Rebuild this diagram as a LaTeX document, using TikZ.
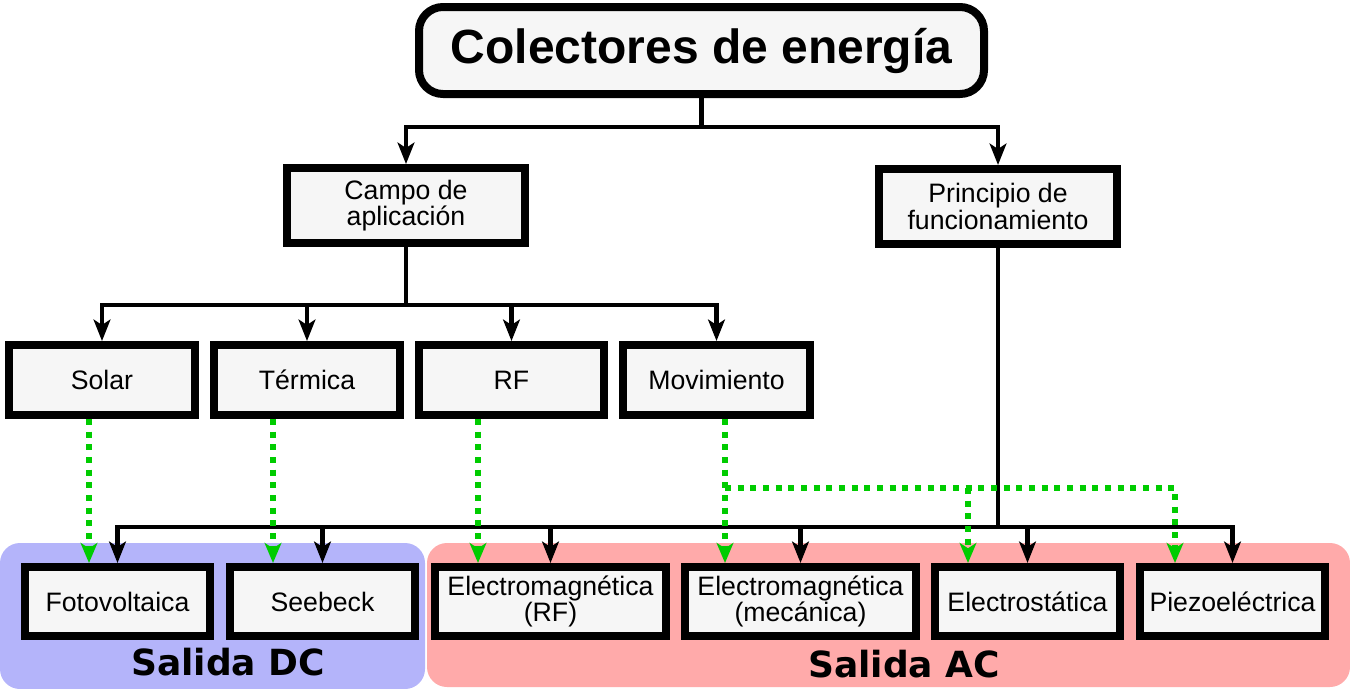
\documentclass[tikz,border=0pt]{standalone}
\usepackage{fontspec}
\setmainfont{Liberation Sans}
\newfontfamily\djv{DejaVu Sans}
\usetikzlibrary{arrows.meta,calc}
\definecolor{boxfill}{RGB}{246,246,246}
\definecolor{bluebg}{RGB}{180,180,250}
\definecolor{pinkbg}{RGB}{255,170,170}
\definecolor{grn}{RGB}{0,204,0}
\begin{document}
\begin{tikzpicture}[x=0.75pt,y=-0.75pt,
  box/.style={draw=black, line width=6pt, fill=boxfill, inner sep=0pt, outer sep=3pt,
    align=center, font=\fontsize{20}{20}\selectfont},
  sz/.style 2 args={minimum width=#1*0.75pt-6pt, minimum height=#2*0.75pt-6pt},
  ln/.style={line width=3.6pt, draw=black},
  arr/.style={ln, -{Stealth[length=16pt,width=12.5pt,inset=4pt]}},
  grnarr/.style={draw=grn, line width=4.5pt, dash pattern=on 4.5pt off 5pt,
    -{Stealth[length=15pt,width=12.5pt,inset=4pt]}},
  lbl/.style={font=\djv\bfseries\fontsize{27}{27}\selectfont, inner sep=0pt, anchor=base}
]
\useasboundingbox (0,0) rectangle (1350,689);
% output regions
\fill[bluebg, rounded corners=15pt] (0,543) rectangle (425,689);
\fill[pinkbg, rounded corners=15pt] (427,543) rectangle (1350,687);
\node[lbl] (dc) at (228,675) {Salida DC};
\node[lbl] (ac) at (904,677) {Salida AC};
% boxes
\node[box, sz={573}{95}, rounded corners=18pt, font=\bfseries\fontsize{36}{36}\selectfont] (title) at (701.5,50.5) {Colectores de energía};
\node[box, sz={246}{83}] (campo) at (406,205.5) {Campo de\\aplicación};
\node[box, sz={246}{83}] (principio) at (998,206.5) {Principio de\\funcionamiento};
\node[box, sz={194}{78}] (solar) at (102,380) {Solar};
\node[box, sz={194}{78}] (termica) at (307,380) {Térmica};
\node[box, sz={193}{78}] (rf) at (511.5,380) {RF};
\node[box, sz={195}{78}] (mov) at (716.5,380) {Movimiento};
\node[box, sz={193}{77}] (foto) at (117.5,601.5) {Fotovoltaica};
\node[box, sz={193}{77}] (seebeck) at (322.5,601.5) {Seebeck};
\node[box, sz={239}{77}] (emrf) at (550.5,601.5) {Electromagnética\\(RF)};
\node[box, sz={239}{77}] (emmec) at (800.5,601.5) {Electromagnética\\(mecánica)};
\node[box, sz={193}{77}] (estat) at (1027.5,601.5) {Electrostática};
\node[box, sz={193}{77}] (piezo) at (1232.5,601.5) {Piezoeléctrica};
% black tree
\coordinate (r1) at (0,127);
\coordinate (r2) at (0,305);
\coordinate (r3) at (0,527);
\draw[ln] (title.south) -- (title.south |- r1);
\draw[arr] (title.south |- r1) -| (campo.north);
\draw[arr] (title.south |- r1) -| (principio.north);
\draw[ln] (campo.south) -- (campo.south |- r2);
\foreach \n in {solar,termica,rf,mov} \draw[arr] (campo.south |- r2) -| (\n.north);
\draw[ln] (principio.south) -- (principio.south |- r3);
\foreach \n in {foto,seebeck,emrf,emmec,estat,piezo} \draw[arr] (principio.south |- r3) -| (\n.north);
% green links
\coordinate (g1) at (89,0);
\coordinate (g2) at (273,0);
\coordinate (g3) at (478,0);
\coordinate (g4) at (725,0);
\coordinate (g5) at (968,0);
\coordinate (g6) at (1175,0);
\coordinate (gh) at (0,488);
\draw[grnarr] (solar.south -| g1) -- (foto.north -| g1);
\draw[grnarr] (termica.south -| g2) -- (seebeck.north -| g2);
\draw[grnarr] (rf.south -| g3) -- (emrf.north -| g3);
\draw[grnarr] (mov.south -| g4) -- (emmec.north -| g4);
\draw[grnarr] (g4 |- gh) -| (piezo.north -| g6);
\draw[grnarr] (g5 |- gh) -- (estat.north -| g5);
\end{tikzpicture}
\end{document}
